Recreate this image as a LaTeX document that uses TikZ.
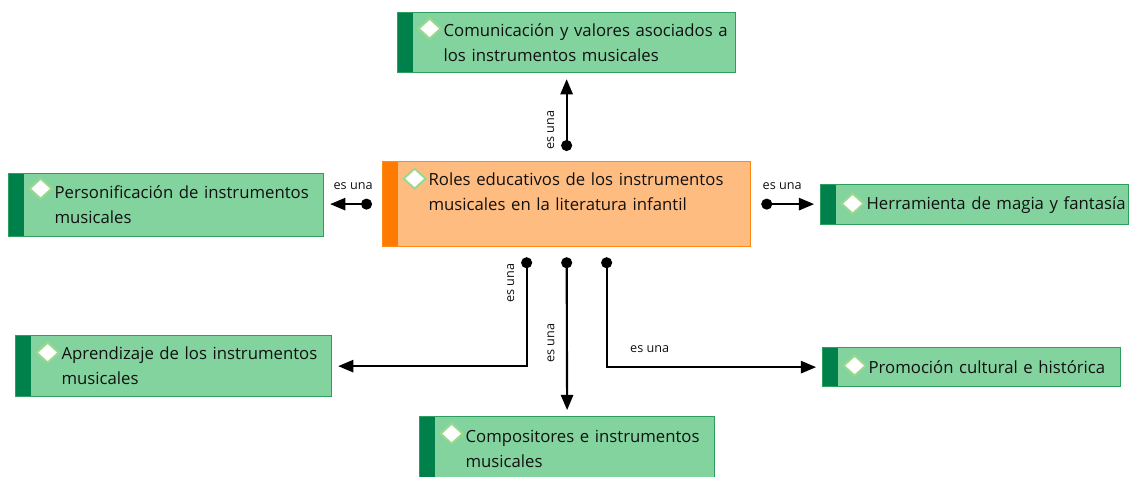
\documentclass[tikz,border=0pt]{standalone}
\usepackage{fontspec}
\setmainfont{Open Sans}
\usepackage{tikz}
\usetikzlibrary{arrows}
\usetikzlibrary{calc}
\usetikzlibrary{positioning}

\definecolor{leafFill}{HTML}{83D39F}
\definecolor{leafLine}{HTML}{2E9E5E}
\definecolor{leafBar}{HTML}{00804A}
\definecolor{rootFill}{HTML}{FFBC80}
\definecolor{rootLine}{HTML}{FF8A16}
\definecolor{rootBar}{HTML}{FF7A00}
\definecolor{markLine}{HTML}{9BD88F}
\definecolor{ink}{HTML}{111111}

\newcommand{\px}{0.025cm}

\begin{document}
\begin{tikzpicture}[
    x=0.025cm, y=-0.025cm,
    % styles
    concept/.style 2 args={draw=#1Line, fill=#1Fill, line width=0.9pt,
      anchor=north west, inner sep=0pt, align=left, text=ink,
      font=\fontsize{11.9}{17.8}\selectfont,
      execute at begin node={\setlength\leftskip{1.15cm}},
      path picture={
        \fill[#1Bar] (path picture bounding box.north west)
          rectangle ($(path picture bounding box.south west)+(15,0)$);
        \draw[markLine, fill=white, line width=1.4pt]
          ($(path picture bounding box.north west)+(21,#2)$)
          -- ++(11,-10) -- ++(11,10) -- ++(-11,10) -- cycle;
      }},
    boxsize/.style 2 args={minimum width=#1*\px, text width=#1*\px,
      minimum height=#2*\px},
    isa/.style={line width=1.5pt, *-triangle 45,
      shorten <=0.25cm, shorten >=0.15cm},
    rel/.style={font=\fontsize{9}{10}\selectfont, text=ink, inner sep=1pt}]

    \clip (0, 0) rectangle (1134, 477);

    % central concept
    \node[concept={root}{17}, boxsize={368}{85}] (roles) at (382, 161)
      {Roles educativos de los instrumentos\\musicales en la literatura infantil\\\mbox{}};

    % linked concepts
    \node[concept={leaf}{16}, boxsize={338}{60}] (comm) at (397, 12)
      {Comunicación y valores asociados a\\los instrumentos musicales};
    \node[concept={leaf}{15}, boxsize={315}{63}] (pers) at (8, 173)
      {Personificación de instrumentos\\musicales};
    \node[concept={leaf}{19}, boxsize={308}{40}] (magia) at (820, 184)
      {Herramienta de magia y fantasía};
    \node[concept={leaf}{17}, boxsize={316}{61}] (apren) at (15, 335)
      {Aprendizaje de los instrumentos\\musicales};
    \node[concept={leaf}{18}, boxsize={298}{39}] (promo) at (822, 347)
      {Promoción cultural e histórica};
    \node[concept={leaf}{17}, boxsize={295}{64}] (comp) at (419, 416)
      {Compositores e instrumentos\\musicales};

    % links
    \draw[isa] (roles.north) -- (comm.south)
      node[rel, pos=0.35, rotate=90, anchor=south, yshift=10*\px] {es una};
    \draw[isa] (roles.west) -- (roles.west -| pers.east)
      node[rel, midway, above=12*\px] {es una};
    \draw[isa] (roles.east) -- (roles.east -| magia.west)
      node[rel, pos=0.45, above=12*\px] {es una};
    \draw[isa] ($(roles.south)+(-40, 0)$) |- (apren.east)
      node[rel, pos=0.15, rotate=90, anchor=south, yshift=10*\px] {es una};
    \draw[isa] (roles.south) -- (comp.north)
      node[rel, pos=0.57, rotate=90, anchor=south, yshift=10*\px] {es una};
    \draw[isa] ($(roles.south)+(40, 0)$) |- (promo.west)
      node[rel, pos=0.6, above=12*\px] {es una};

  \end{tikzpicture}
\end{document}
